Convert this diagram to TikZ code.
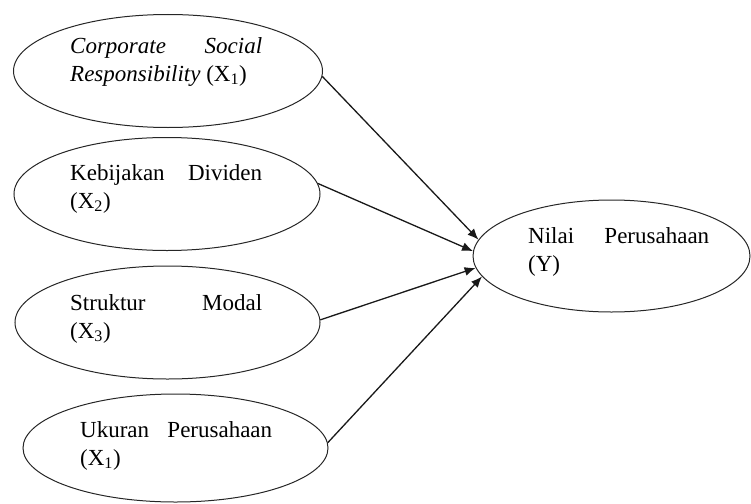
\documentclass[tikz,border=0pt]{standalone}
\usepackage{fontspec}
\setmainfont{Liberation Serif}
\usetikzlibrary{shapes.geometric,arrows.meta}
\begin{document}
\begin{tikzpicture}[x=1pt,y=-1pt,
  var/.style={draw=black!85,line width=1pt,ellipse,inner sep=0pt,minimum height=113pt},
  lbl/.style={anchor=north west,inner sep=0pt,text width=192pt,align=justify,
    font={\fontsize{23}{28}\selectfont\hyphenpenalty=10000\relax}},
  link/.style={draw=black!90,line width=1.3pt,-{Latex[length=11pt,width=9pt]}}]
\useasboundingbox (0,0) rectangle (751,503);
% ellipses
\node[var,minimum width=309pt] (e1) at (168,71) {};
\node[var,minimum width=306pt] (e2) at (167,194) {};
\node[var,minimum width=305pt] (e3) at (167.5,322.5) {};
\node[var,minimum width=305pt,minimum height=108pt] (e4) at (175.5,448) {};
\node[var,minimum width=277pt,minimum height=112pt] (y) at (611.5,256) {};
% labels
\node[lbl] (t1) at (70,33.4) {\strut\textit{Corporate Social}\linebreak\textit{Responsibility} (X\textsubscript{1})};
\node[lbl] (t2) at (70,160.4) {\strut Kebijakan Dividen\linebreak (X\textsubscript{2})};
\node[lbl] (t3) at (70,290.4) {\strut Struktur Modal\linebreak (X\textsubscript{3})};
\node[lbl] (t4) at (80,417.4) {\strut Ukuran Perusahaan\linebreak (X\textsubscript{1})};
\node[lbl,text width=181pt] (ty) at (528,223.4) {\strut Nilai Perusahaan\linebreak (Y)};
% arrows
\draw[link] (e1.-2.7) -- (y.173.4);
\draw[link] (e2.4.2) -- (y.178.3);
\draw[link] (e3.1.3) -- (y.185);
\draw[link] (e4.2.6) -- (y.189.3);
\end{tikzpicture}
\end{document}
